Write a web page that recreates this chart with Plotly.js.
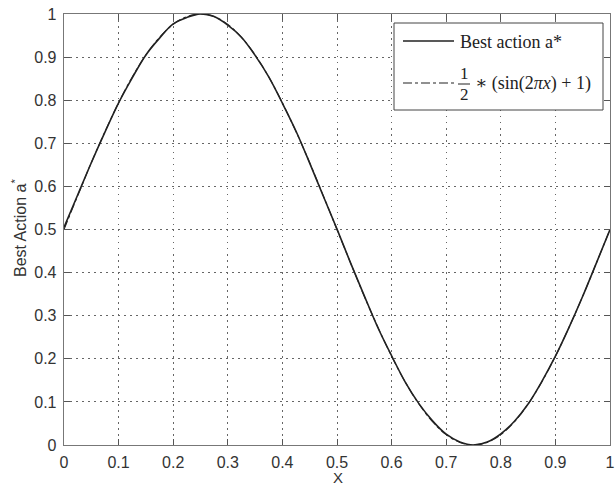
<!DOCTYPE html>
<html>
<head>
<meta charset="utf-8">
<script src="https://cdn.plot.ly/plotly-3.0.1.min.js"></script>
<style>html,body{margin:0;padding:0;background:#fff;}#chart{width:616px;height:487px;}</style>
</head>
<body>
<div id="chart"></div>
<script>
// x positions
const xValues = [0,0.025,0.05,0.075,0.1,0.125,0.15,0.175,0.2,0.225,0.25,0.275,0.3,0.325,0.35,0.375,0.4,0.425,0.45,0.475,0.5,
  0.525,0.55,0.575,0.6,0.625,0.65,0.675,0.7,0.725,0.75,0.775,0.8,0.825,0.85,0.875,0.9,0.925,0.95,0.975,1];
// Best action a* (solid)
const bestAction = [0.505,0.580,0.655,0.726,0.794,0.852,0.905,0.944,0.977,0.992,1.0,0.994,0.974,0.946,0.904,0.854,0.793,0.728,0.654,0.577,0.501,
  0.422,0.346,0.272,0.207,0.146,0.096,0.056,0.025,0.007,0.0,0.007,0.026,0.055,0.095,0.147,0.206,0.273,0.345,0.422,0.5];
// 1/2*(sin(2*pi*x)+1) (dash-dot)
const sineRef = [0.5,0.578,0.655,0.727,0.794,0.854,0.905,0.946,0.976,0.994,1.0,0.994,0.976,0.946,0.905,0.854,0.794,0.727,0.655,0.578,0.5,
  0.422,0.345,0.273,0.206,0.146,0.095,0.054,0.024,0.006,0.0,0.006,0.024,0.054,0.095,0.146,0.206,0.273,0.345,0.422,0.5];
const tickVals = [0,0.1,0.2,0.3,0.4,0.5,0.6,0.7,0.8,0.9,1];
const tickText = ['0','0.1','0.2','0.3','0.4','0.5','0.6','0.7','0.8','0.9','1'];
const legendLabels = ['Best action a*', '∗ (sin(2<i>πx</i>) + 1)'];

const traces = [
  {x: xValues, y: bestAction, mode: 'lines', line: {color: '#222', width: 1.6, shape: 'spline'}, showlegend: false},
  {x: xValues, y: sineRef, mode: 'lines', line: {color: '#222', width: 1.1, dash: 'dashdot', shape: 'spline'}, showlegend: false}
];

const axisCommon = {
  range: [0, 1], tickvals: tickVals, ticktext: tickText,
  ticks: 'inside', ticklen: 6, tickcolor: '#555', tickwidth: 1,
  showline: true, linecolor: '#777', linewidth: 1.3, mirror: 'ticks',
  showgrid: true, gridcolor: '#666', gridwidth: 1, griddash: '1.5px,4.5px',
  zeroline: false, fixedrange: true,
  tickfont: {family: 'Liberation Sans, Arial, sans-serif', size: 16, color: '#333'}
};

const W = 546, H = 431, L = 64, T = 14;
function px(x){ return (x - L) / W; }
function py(y){ return 1 - (y - T) / H; }
const serif = {family: 'Liberation Serif, DejaVu Serif, serif', size: 18, color: '#222'};

const layout = {
  width: 616, height: 487,
  margin: {l: 64, r: 6, t: 14, b: 42},
  paper_bgcolor: '#fff', plot_bgcolor: '#fff',
  xaxis: Object.assign({}, axisCommon, {ticklabelstandoff: 2}),
  yaxis: Object.assign({}, axisCommon, {ticklabelstandoff: 3}),
  showlegend: false,
  shapes: [
    {type: 'rect', xref: 'paper', yref: 'paper', x0: px(394), x1: px(603), y0: py(110), y1: py(23),
     line: {color: '#444', width: 1}, fillcolor: '#fff', layer: 'above'},
    {type: 'line', xref: 'paper', yref: 'paper', x0: px(403), x1: px(454), y0: py(41), y1: py(41),
     line: {color: '#222', width: 1.6}},
    {type: 'line', xref: 'paper', yref: 'paper', x0: px(403), x1: px(454), y0: py(83), y1: py(83),
     line: {color: '#222', width: 1.1, dash: 'dashdot'}},
    {type: 'line', xref: 'paper', yref: 'paper', x0: px(458), x1: px(470), y0: py(84), y1: py(84),
     line: {color: '#222', width: 1}}
  ],
  annotations: [
    {xref: 'paper', yref: 'paper', x: px(458), y: py(42), xanchor: 'left', yanchor: 'middle',
     text: legendLabels[0], showarrow: false, font: serif},
    {xref: 'paper', yref: 'paper', x: px(464), y: py(73), xanchor: 'center', yanchor: 'middle',
     text: '1', showarrow: false, font: {family: serif.family, size: 17, color: '#222'}},
    {xref: 'paper', yref: 'paper', x: px(464), y: py(95), xanchor: 'center', yanchor: 'middle',
     text: '2', showarrow: false, font: {family: serif.family, size: 17, color: '#222'}},
    {xref: 'paper', yref: 'paper', x: px(473), y: py(84), xanchor: 'left', yanchor: 'middle',
     text: legendLabels[1], showarrow: false, font: serif},
    {xref: 'paper', yref: 'paper', x: px(19), y: py(228), xanchor: 'center', yanchor: 'middle', textangle: -90,
     text: 'Best Action a<sup>*</sup>', showarrow: false,
     font: {family: 'Liberation Sans, Arial, sans-serif', size: 16, color: '#333'}},
    {xref: 'paper', yref: 'paper', x: px(338), y: py(477), xanchor: 'center', yanchor: 'middle',
     text: 'X', showarrow: false,
     font: {family: 'Liberation Sans, Arial, sans-serif', size: 15, color: '#333'}}
  ]
};

Plotly.newPlot('chart', traces, layout, {displayModeBar: false, staticPlot: true});
</script>
</body>
</html>
